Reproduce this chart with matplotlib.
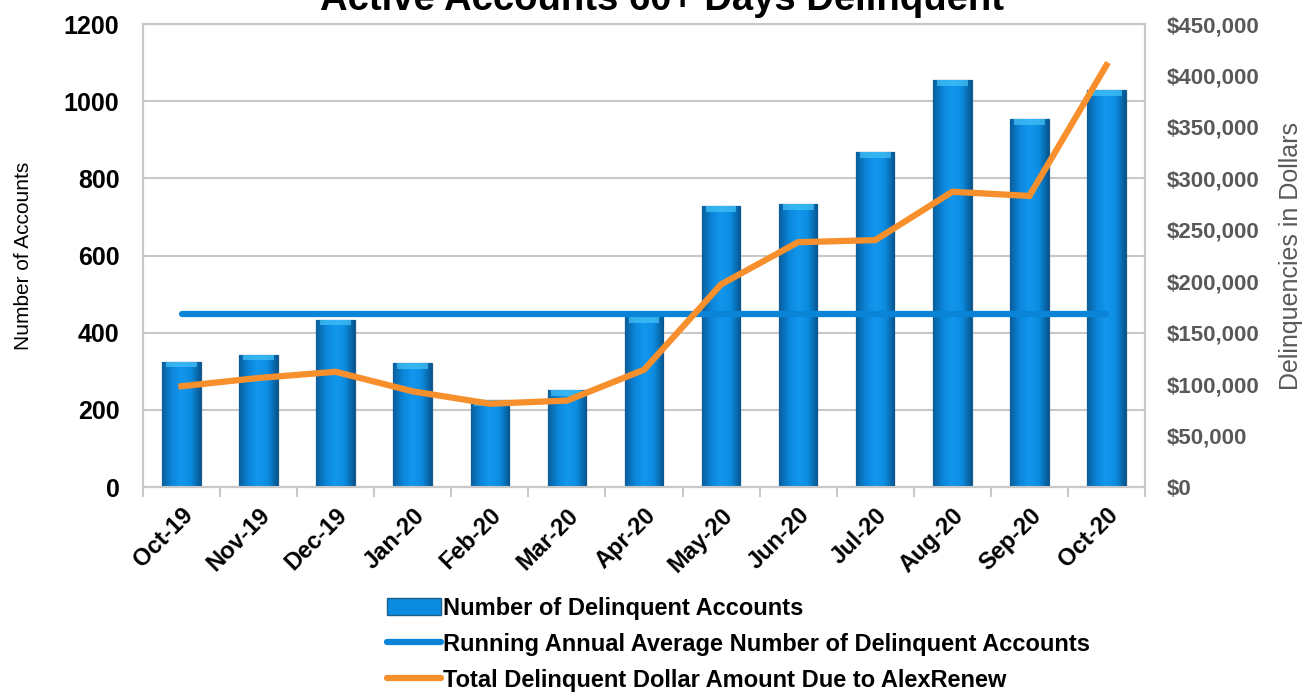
import matplotlib
matplotlib.use("Agg")
import matplotlib.pyplot as plt
import numpy as np
from matplotlib.ticker import FuncFormatter, MultipleLocator
from matplotlib.patches import Patch
from matplotlib.lines import Line2D
from matplotlib.colors import LinearSegmentedColormap

months = ["Oct-19", "Nov-19", "Dec-19", "Jan-20", "Feb-20", "Mar-20", "Apr-20",
          "May-20", "Jun-20", "Jul-20", "Aug-20", "Sep-20", "Oct-20"]
accounts = [324, 342, 433, 321, 225, 251, 440, 728, 733, 868, 1054, 953, 1028]
running_avg = [448] * 13
dollars = [98000, 106000, 112000, 93000, 81000, 84000, 114000,
           197000, 238000, 240000, 287000, 283000, 410000]

plt.rcParams['font.family'] = ['Liberation Sans', 'DejaVu Sans']

fig = plt.figure(figsize=(13.06, 6.92), dpi=100)
ax = fig.add_axes([0.1095, 0.2962, 0.7672, 0.669])
ax2 = ax.twinx()

x = np.arange(len(months))
bars = ax.bar(x, accounts, width=0.5, color='#0b8ce0', edgecolor='#1d5d8c', linewidth=0.9, zorder=3)

# shaded look for the bars: dark edges, bright middle, light top
shade = LinearSegmentedColormap.from_list(
    "barshade", ["#0a5e9c", "#0b86da", "#1297ee", "#0b8ce0", "#07558f"])
grad = np.linspace(0, 1, 64).reshape(1, -1)
for b in bars:
    bx, by, bw, bh = b.get_x(), b.get_y(), b.get_width(), b.get_height()
    im = ax.imshow(grad, cmap=shade, aspect='auto', extent=(bx, bx + bw, by, by + bh),
                   zorder=3.1, interpolation='bicubic')
    im.set_clip_path(b)
    cap = min(14, bh)
    ax.fill_between([bx + bw * 0.1, bx + bw * 0.9], by + bh - cap, by + bh,
                    color='#45c4f7', alpha=0.7, lw=0, zorder=3.2)

ax.plot(x, running_avg, color='#0a84d6', lw=4.5, solid_capstyle='round', zorder=4)
ax2.plot(x, dollars, color='#f7902c', lw=4.5, solid_joinstyle='miter', zorder=5)

ax.set_xlim(-0.5, len(months) - 0.5)
ax.set_ylim(0, 1200)
ax.yaxis.set_major_locator(MultipleLocator(200))
ax.grid(axis='y', color='#c8c8c8', lw=1.5, zorder=0)
ax.set_axisbelow(True)
ax2.set_ylim(0, 450000)
ax2.yaxis.set_major_locator(MultipleLocator(50000))
ax2.yaxis.set_major_formatter(FuncFormatter(lambda v, p: "${:,.0f}".format(v)))

for a in (ax, ax2):
    for s in a.spines.values():
        s.set_color('#c8c8c8')
        s.set_linewidth(1.5)

ax.set_xticks(x)
ax.set_xticklabels(months, rotation=45, ha='right', rotation_mode='anchor',
                   fontsize=17, fontweight='bold')
ax.tick_params(axis='x', length=0, pad=12)
ax.set_xticks(np.arange(-0.5, len(months)), minor=True)
ax.tick_params(axis='x', which='minor', length=7, color='#c8c8c8', width=1.5)
ax.tick_params(axis='y', length=0, labelsize=18, pad=17)
for t in ax.get_yticklabels():
    t.set_fontweight('bold')
ax2.tick_params(axis='y', length=0, labelsize=16, pad=16, labelcolor='#595959')
for t in ax2.get_yticklabels():
    t.set_fontweight('bold')

ax.set_ylabel("Number of Accounts", fontsize=15, labelpad=22)
ax2.set_ylabel("Delinquencies in Dollars", fontsize=18, color='#595959', labelpad=14)

fig.text(0.507, 0.9855, "Active Accounts 60+ Days Delinquent", ha='center', va='baseline',
         fontsize=27.5, fontweight='bold')

handles = [Patch(facecolor='#0b8ce0', edgecolor='#1d5d8c'),
           Line2D([], [], color='#0a84d6', lw=4.5, solid_capstyle='round'),
           Line2D([], [], color='#f7902c', lw=4.5, solid_capstyle='round')]
labels = ["Number of Delinquent Accounts",
          "Running Annual Average Number of Delinquent Accounts",
          "Total Delinquent Dollar Amount Due to AlexRenew"]
fig.legend(handles, labels, loc='center', bbox_to_anchor=(0.5655, 0.069), frameon=False,
           prop={'size': 17, 'weight': 'bold'},
           handlelength=2.3, handletextpad=0.1, labelspacing=0.55)

fig.savefig("out.png", dpi=100)
